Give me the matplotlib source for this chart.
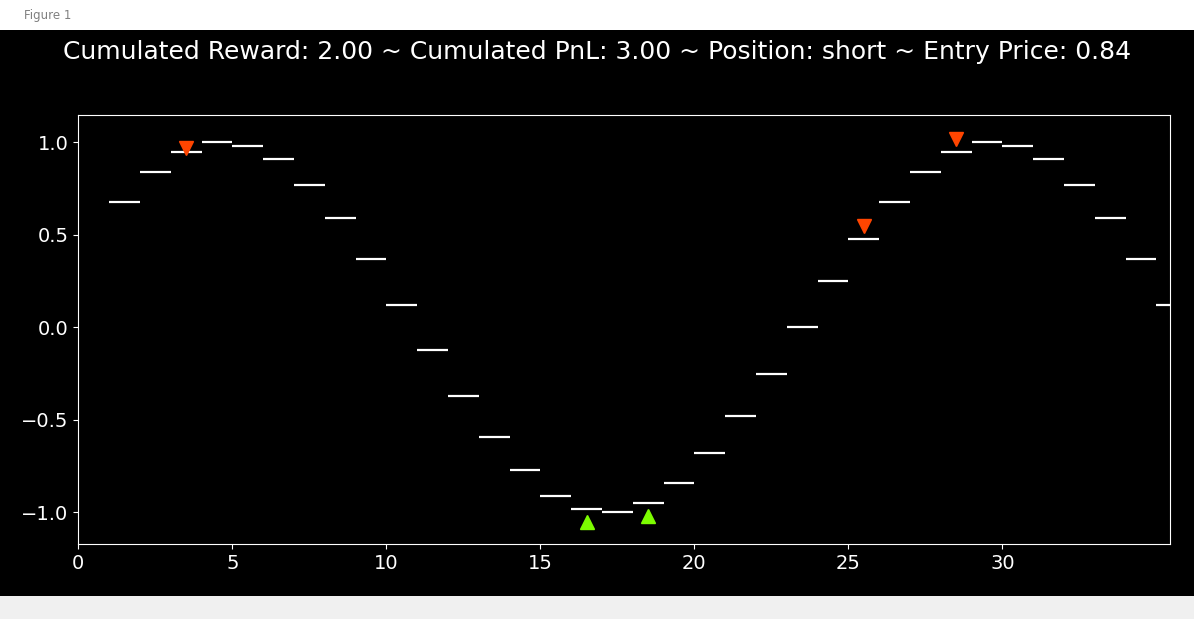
import numpy as np
import matplotlib.pyplot as plt
from matplotlib.patches import Rectangle

# prezzi per step (ogni segmento copre [t, t+1])
steps = list(range(1, 36))
prices = [0.68, 0.84, 0.95, 1.00, 0.98, 0.91, 0.77, 0.59, 0.37, 0.12,
          -0.12, -0.37, -0.59, -0.77, -0.91, -0.98, -1.00, -0.95, -0.84, -0.68,
          -0.48, -0.25, 0.00, 0.25, 0.48, 0.68, 0.84, 0.95, 1.00, 0.98,
          0.91, 0.77, 0.59, 0.37, 0.12]

# segnali
sell_x = [3.5, 25.5, 28.5]
sell_y = [0.97, 0.55, 1.02]
buy_x = [16.5, 18.5]
buy_y = [-1.05, -1.02]

title = "Cumulated Reward: 2.00 ~ Cumulated PnL: 3.00 ~ Position: short ~ Entry Price: 0.84"

W, H = 1194, 619
fig = plt.figure(figsize=(W / 100, H / 100), dpi=100, facecolor="black")

# finestra: barra titolo e toolbar
fig.patches.append(Rectangle((0, (H - 30) / H), 1, 30 / H, transform=fig.transFigure,
                             facecolor="white", edgecolor="none", zorder=0))
fig.patches.append(Rectangle((0, 0), 1, 23 / H, transform=fig.transFigure,
                             facecolor="#f0f0f0", edgecolor="none", zorder=0))
fig.text(24 / W, 1 - 15 / H, "Figure 1", color="#808080", fontsize=8.5,
         va="center", ha="left")

ax = fig.add_axes([78.3 / W, (H - 544) / H, (1169.7 - 78.3) / W, (544 - 115.3) / H])
ax.set_facecolor("black")

steps = np.array(steps)
ax.hlines(prices, steps, steps + 1, colors="white", linewidth=1.6)
ax.plot(sell_x, sell_y, linestyle="none", marker="v", color="#ff4500", markersize=9.5)
ax.plot(buy_x, buy_y, linestyle="none", marker="^", color="#7cfc00", markersize=9.5)

ax.set_xlim(0, 35.43)
ax.set_ylim(-1.171, 1.146)
ax.set_xticks([0, 5, 10, 15, 20, 25, 30])
ax.set_yticks([-1.0, -0.5, 0.0, 0.5, 1.0])
ax.tick_params(colors="white", labelsize=14)
for s in ax.spines.values():
    s.set_color("white")

fig.text(0.5, 1 - 52 / H, title, color="white", fontsize=18, ha="center", va="center")

plt.savefig("out.png", dpi=100, facecolor=fig.get_facecolor())
